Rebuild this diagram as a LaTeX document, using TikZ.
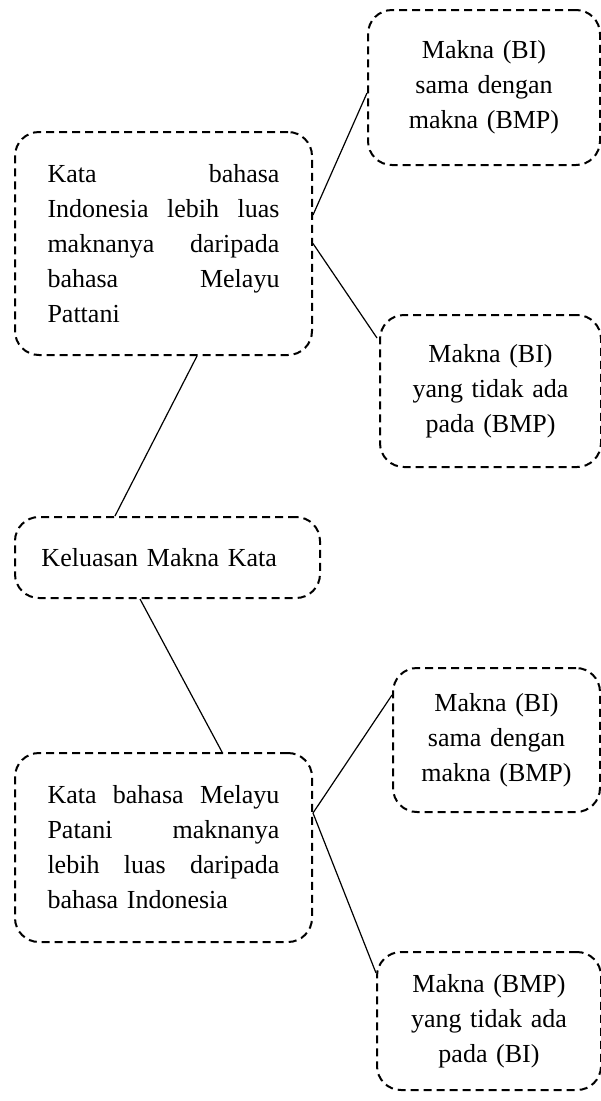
\documentclass[tikz,border=0pt]{standalone}
\usepackage{fontspec}
\setmainfont{Liberation Serif}
\tikzset{
  dashbox/.style={draw, dash pattern=on 8pt off 5pt, line width=2pt,
    rounded corners=24pt, inner xsep=0pt, inner ysep=0pt,
    font=\fontsize{26}{35}\selectfont},
  sidebox/.style={dashbox, align=center, text width=200pt},
  link/.style={line width=1.2pt},
}
\begin{document}
\begin{tikzpicture}[x=1pt,y=-1pt]
\useasboundingbox (0,0) rectangle (601,1101);
\node [dashbox, minimum width=297pt, minimum height=223pt, text width=232pt,
  align=left] (biLuas) at (163.5,243.5)
  {Kata \hfill bahasa\\ Indonesia \hfill lebih \hfill luas\\
   maknanya \hfill daripada\\ bahasa \hfill Melayu\\ Pattani};
\node [sidebox, minimum width=232pt, minimum height=155pt] (biSama) at (484,87.5)
  {Makna (BI)\\ sama dengan\\ makna (BMP)};
\node [sidebox, minimum width=221pt, minimum height=152pt] (biTidak) at (490.5,391)
  {Makna (BI)\\ yang tidak ada\\ pada (BMP)};
\node [dashbox, minimum width=305pt, minimum height=81pt, text width=252pt,
  align=left] (luas) at (167.5,557.5) {Keluasan Makna Kata};
\node [dashbox, minimum width=297pt, minimum height=189pt, text width=232pt,
  align=left] (bmpLuas) at (163.5,847.5)
  {Kata \hfill bahasa \hfill Melayu\\ Patani \hfill maknanya\\
   lebih \hfill luas \hfill daripada\\ bahasa Indonesia};
\node [sidebox, minimum width=207pt, minimum height=144pt] (bmpSama) at (496.5,740)
  {Makna (BI)\\ sama dengan\\ makna (BMP)};
\node [sidebox, minimum width=224pt, minimum height=138pt] (bmpTidak) at (489,1021)
  {Makna (BMP)\\ yang tidak ada\\ pada (BI)};
\draw [link] ([yshift=28.5pt]biLuas.east) -- ([yshift=-5.5pt]biSama.west);
\draw [link] (biLuas.east) -- ([xshift=-2pt,yshift=53pt]biTidak.west);
\draw [link] ([xshift=33.5pt]biLuas.south) -- ([xshift=-52.5pt]luas.north);
\draw [link] ([xshift=-27.5pt]luas.south) -- ([xshift=58.5pt]bmpLuas.north);
\draw [link] ([yshift=34.5pt]bmpLuas.east) -- ([yshift=45pt]bmpSama.west);
\draw [link] ([yshift=34.5pt]bmpLuas.east) -- ([yshift=48pt]bmpTidak.west);
\end{tikzpicture}
\end{document}
